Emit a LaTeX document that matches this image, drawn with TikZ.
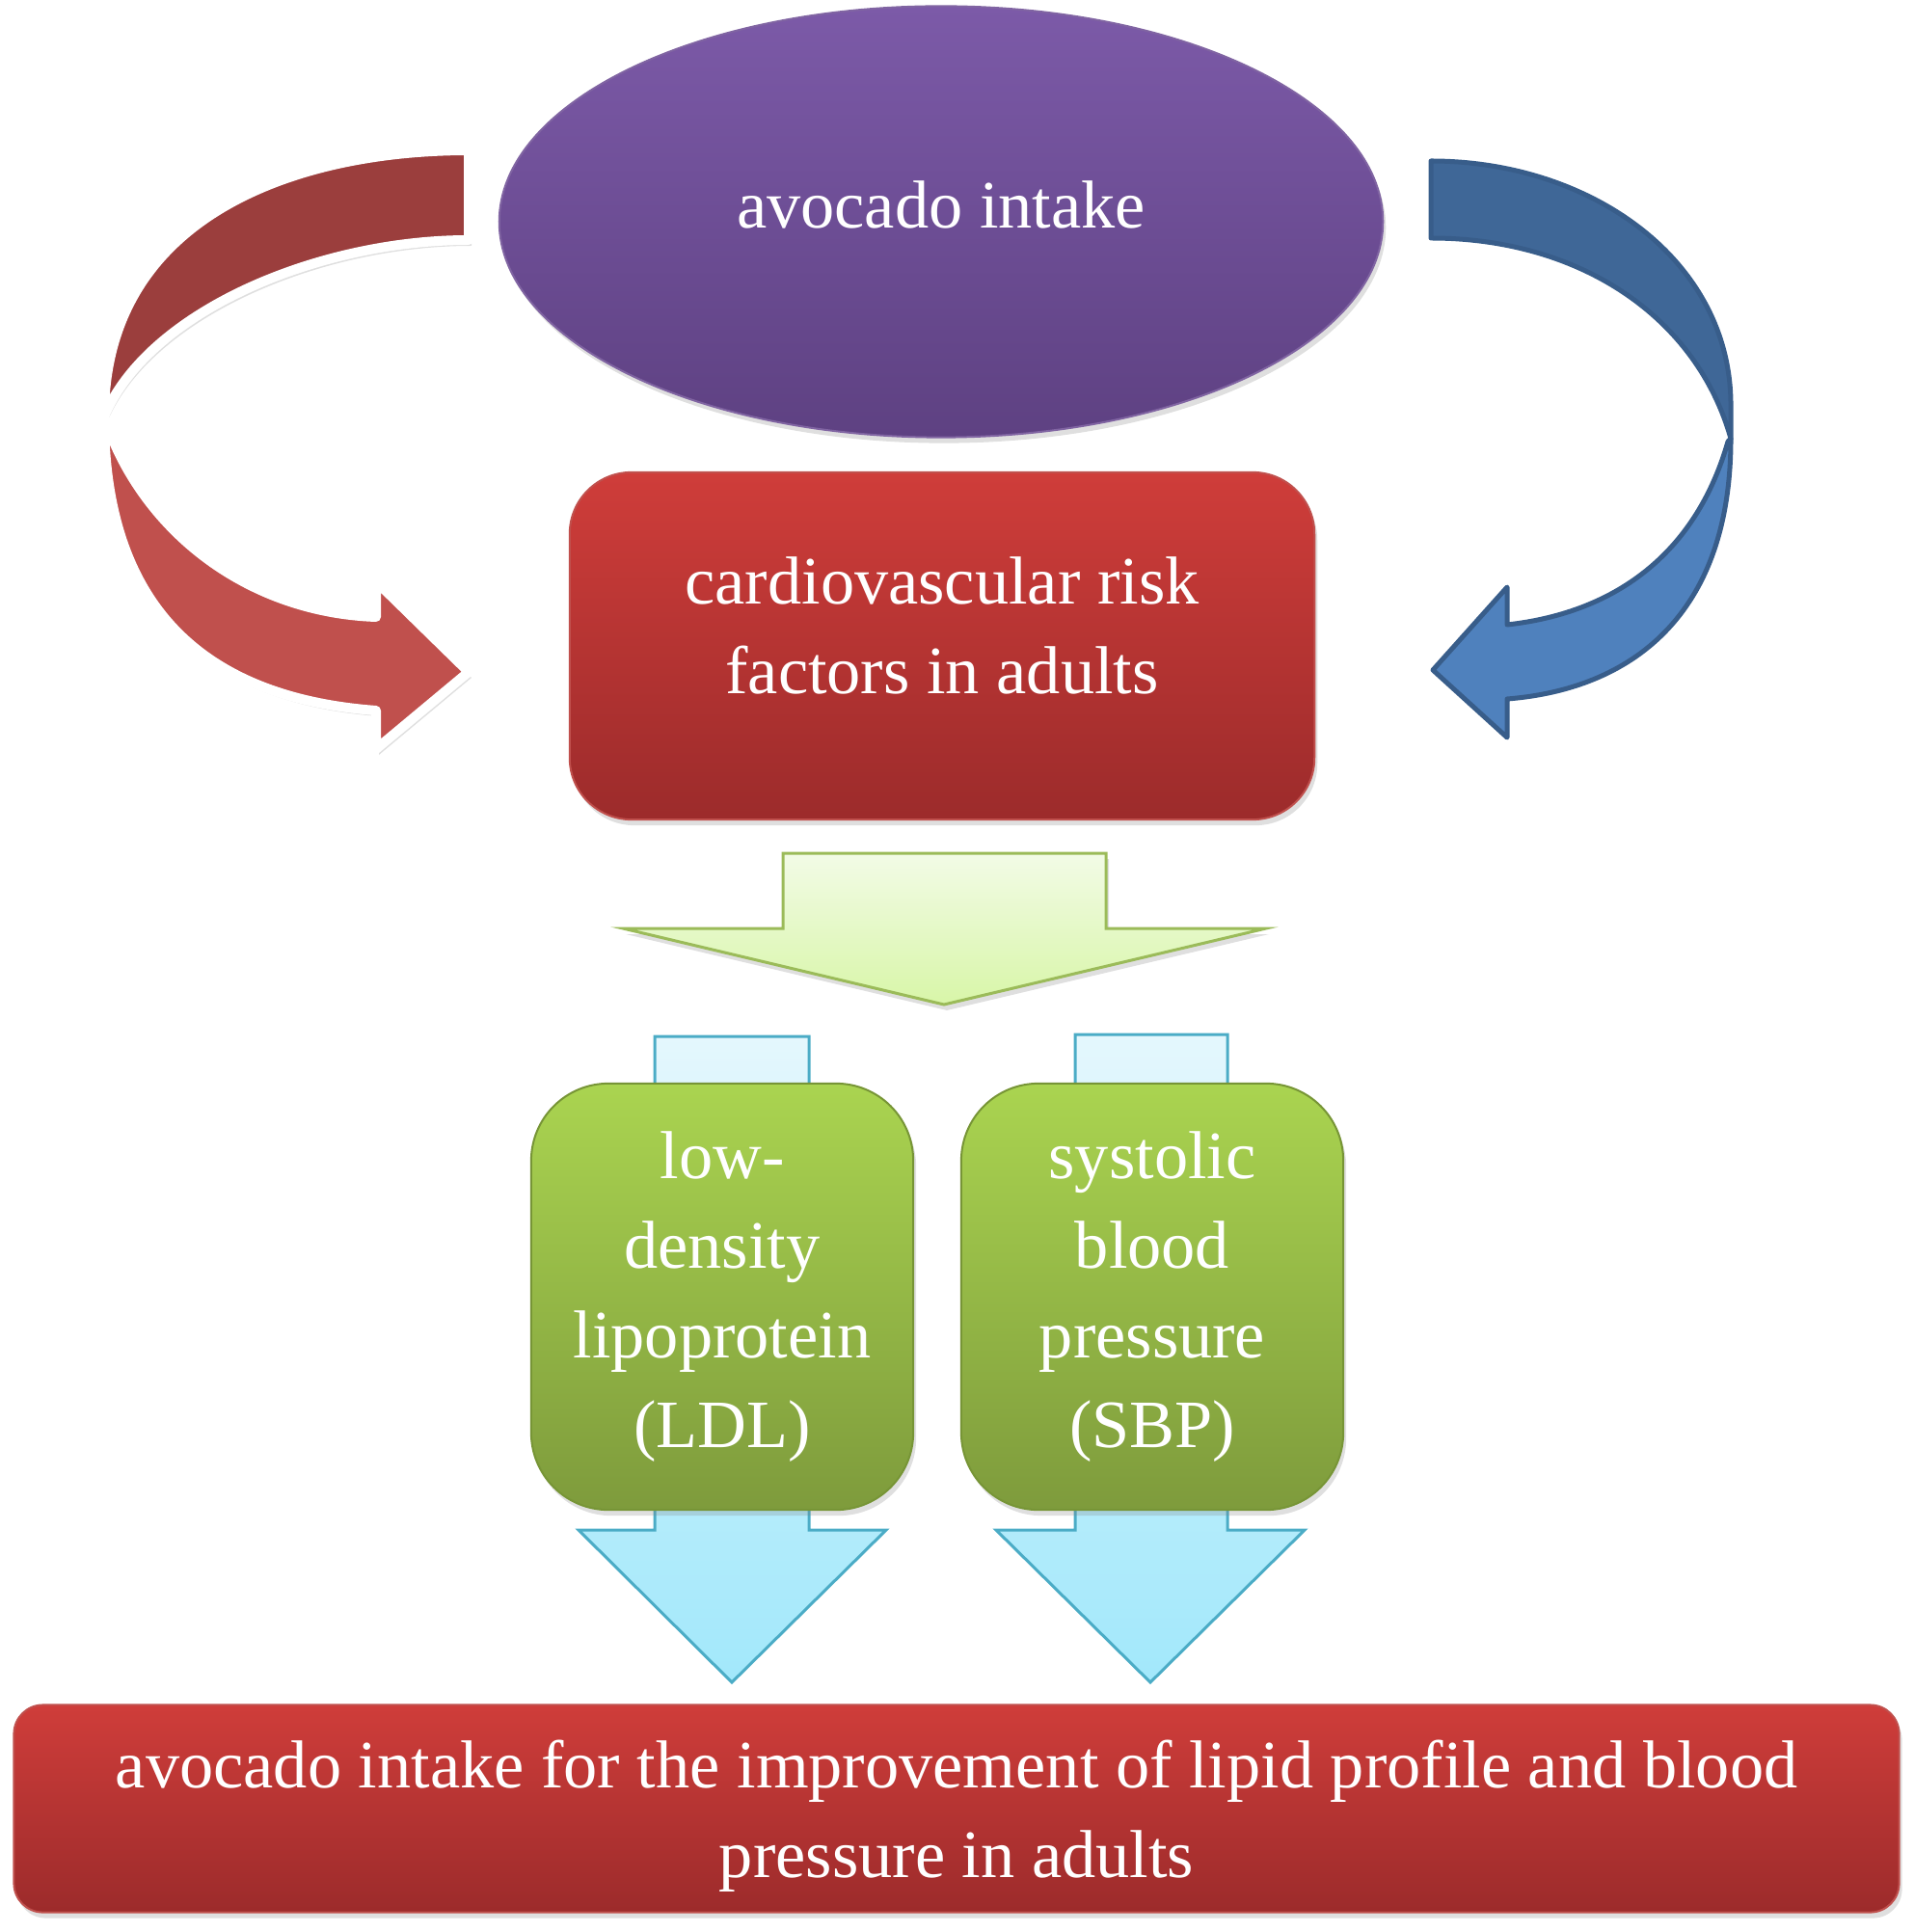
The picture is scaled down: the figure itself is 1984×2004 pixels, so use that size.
\documentclass[tikz,border=0pt]{standalone}
\usepackage{fontspec}
\setmainfont{Liberation Serif}
\usetikzlibrary{shapes.geometric,shadows}

\definecolor{purpletop}{HTML}{7C5AA8}
\definecolor{purplebot}{HTML}{5E4182}
\definecolor{purpleline}{HTML}{8064A2}
\definecolor{redtop}{HTML}{CF3D3A}
\definecolor{redbot}{HTML}{9C2B2B}
\definecolor{redline}{HTML}{C0504D}
\definecolor{greentop}{HTML}{AAD450}
\definecolor{greenbot}{HTML}{7E9B3C}
\definecolor{greenline}{HTML}{779536}
\definecolor{backred}{HTML}{9B3E3D}
\definecolor{frontred}{HTML}{C0504D}
\definecolor{backblue}{HTML}{3F6797}
\definecolor{frontblue}{HTML}{4F81BD}
\definecolor{blueline}{HTML}{385D8A}
\definecolor{limetop}{HTML}{F2FBE6}
\definecolor{limebot}{HTML}{D8F6A8}
\definecolor{limeline}{HTML}{9BBB59}
\definecolor{cyantop}{HTML}{E4F7FD}
\definecolor{cyanbot}{HTML}{A2E8FB}
\definecolor{cyanline}{HTML}{4BACC6}

\begin{document}
\begin{tikzpicture}[x=0.01cm, y=-0.01cm,
        txt/.style = {font=\fontsize{20}{26.5}\selectfont, text=white, align=center},
        softshadow/.style = {drop shadow={opacity=0.25, shadow xshift=0.03cm, shadow yshift=-0.06cm}},
        bubble/.style = {txt, ellipse, minimum width=9.16cm, minimum height=4.47cm,
            top color=purpletop, bottom color=purplebot, draw=purpleline, line width=0.02cm, softshadow},
        redbox/.style = {txt, rounded corners=0.64cm, top color=redtop, bottom color=redbot,
            draw=redline, line width=0.02cm, softshadow},
        greenbox/.style = {txt, rounded corners=0.8cm, minimum width=3.96cm, minimum height=4.42cm,
            top color=greentop, bottom color=greenbot, draw=greenline, line width=0.02cm, softshadow},
        backband/.style = {fill=#1, line width=0.1cm, line join=round},
        limearrow/.style = {top color=limetop, bottom color=limebot, draw=limeline, line width=0.03cm, softshadow},
        cyanarrow/.style = {top color=cyantop, bottom color=cyanbot, draw=cyanline, line width=0.03cm}]

    \useasboundingbox (0,0) rectangle (1984,2004);

    \node[bubble, text depth=10pt] (avocado) at (976,230) {avocado intake};
    \node[redbox, minimum width=7.72cm, minimum height=3.6cm, text depth=12pt] (risk) at (977,670)
        {cardiovascular risk\\factors in adults};

    % curved arrows
    \draw[backband=backred, draw=white, softshadow]
        (486,156) .. controls (300,156) and (108,228) .. (108,432)
        .. controls (154,323) and (330,249) .. (486,249) -- cycle;
    \draw[backband=frontred, draw=white, softshadow]
        (108,432) .. controls (108,645) and (228,725) .. (390,737)
        -- (390,777) -- (486,697) -- (390,603) -- (390,640)
        .. controls (252,635) and (145,546) .. (108,432) -- cycle;

    \draw[backband=backblue, draw=blueline, line width=0.05cm]
        (1484,167) .. controls (1650,167) and (1795,270) .. (1795,420) -- (1795,455)
        .. controls (1760,330) and (1640,247) .. (1484,247) -- cycle;
    \draw[backband=frontblue, draw=blueline, line width=0.05cm]
        (1795,455) .. controls (1795,640) and (1690,715) .. (1563,725)
        -- (1563,765) -- (1486,695) -- (1563,609) -- (1563,648)
        .. controls (1680,635) and (1760,570) .. (1792,458) -- cycle;

    \draw[limearrow] (812,885) -- (1147,885) -- (1147,963) -- (1313,963)
        -- (979,1042) -- (646,963) -- (812,963) -- cycle;

    \draw[cyanarrow] (679,1075) -- (839,1075) -- (839,1587) -- (919,1587)
        -- (759,1745) -- (600,1587) -- (679,1587) -- cycle;
    \draw[cyanarrow] (1115,1073) -- (1273,1073) -- (1273,1587) -- (1353,1587)
        -- (1193,1745) -- (1033,1587) -- (1115,1587) -- cycle;

    \node[greenbox] (ldl) at (749,1345) {low-\\density\\lipoprotein\\(LDL)};
    \node[greenbox] (sbp) at (1195,1345) {systolic\\blood\\pressure\\(SBP)};

    \node[redbox, rounded corners=0.3cm, minimum width=19.54cm, minimum height=2.15cm, text depth=-3pt] (outcome) at (992,1876)
        {avocado intake for the improvement of lipid profile and blood\\pressure in adults};
\end{tikzpicture}
\end{document}
